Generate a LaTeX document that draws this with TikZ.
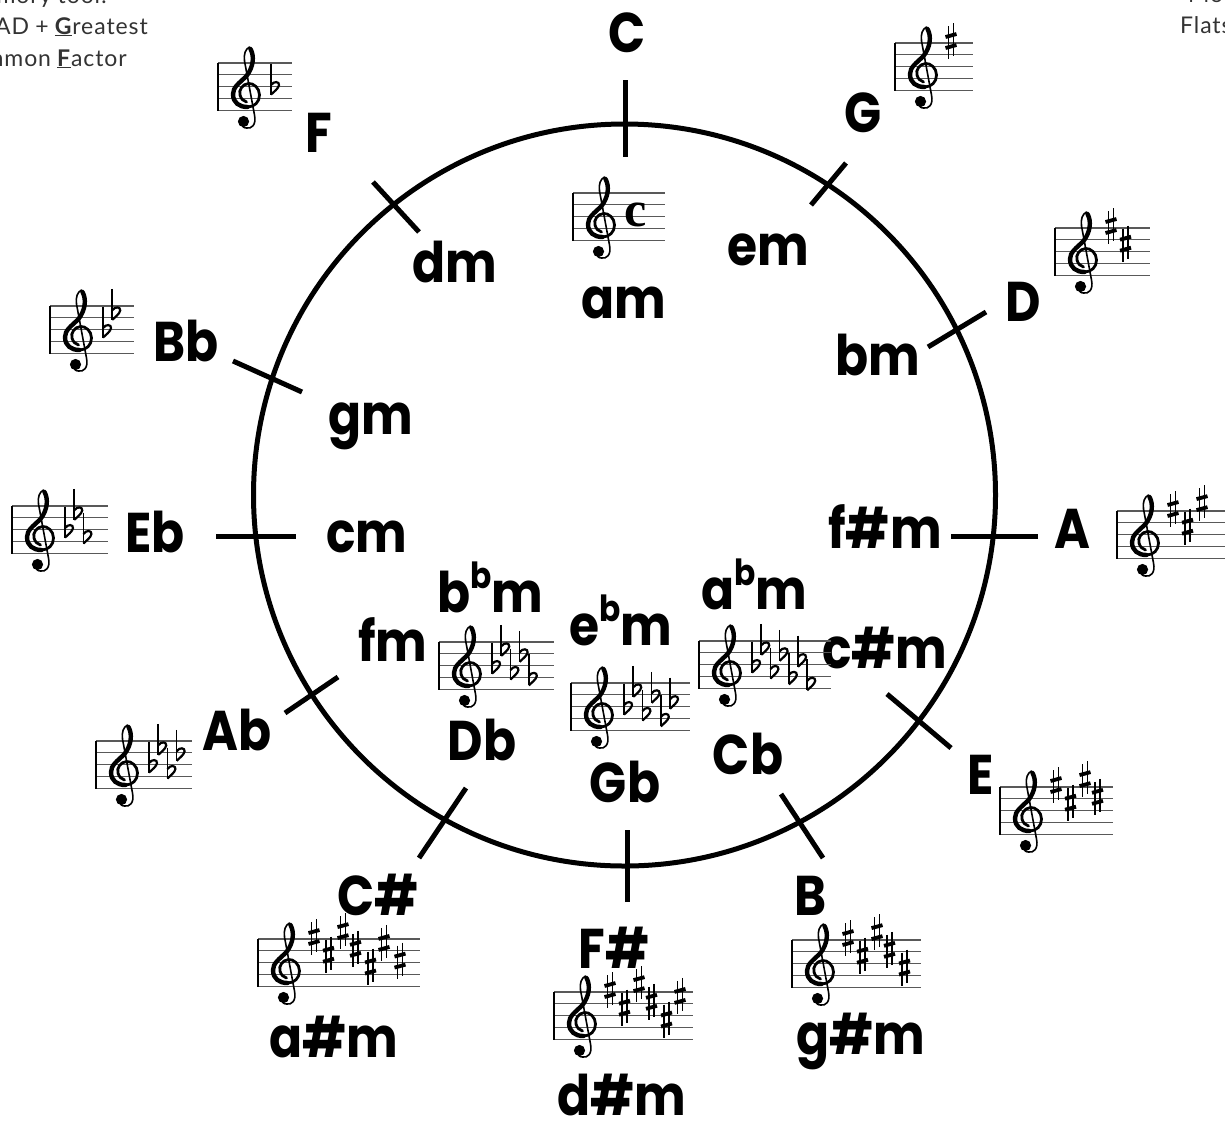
\documentclass[tikz,border=0pt]{standalone}
\usepackage{fontspec}
\setmainfont{Poppins}[UprightFont=* Bold,BoldFont=* Bold,FakeStretch=0.87]
\newfontfamily\smallfont{Lato}[LetterSpace=4,WordSpace=0.9]
\newfontfamily\timefont{Liberation Serif}[BoldFont=* Bold]
\newcommand{\supb}{\raisebox{0.42em}{\fontsize{36}{36}\selectfont b}}
\tikzset{
  x=1pt,y=-1pt,
  ring/.style={line width=5pt,draw=black},
  tickline/.style={line width=5pt,draw=black},
  keylabel/.style={anchor=base,font=\fontsize{56}{56}\selectfont,text=black,inner sep=0pt},
  note/.style={font=\smallfont\fontsize{23}{23}\selectfont,text=black!80,inner sep=0pt},
  staffline/.style={line width=1.3pt,draw=black!65},
  staffbar/.style={line width=2.8pt,draw=black},
  accstem/.style={line width=1.5pt,draw=black},
  accbar/.style={line width=3.8pt,draw=black},
}
% treble clef: local frame origin at the staff's top-left corner
\newcommand{\trebleclef}{%
  \begin{scope}[shift={(13.5,-16)}]
    \draw[black,line width=1.6pt,line cap=round]
      (18,0) .. controls (14,2) and (12,7) .. (13,14) -- (23,68)
      .. controls (25,78) and (20,82) .. (15,81)
      .. controls (12,81) and (10,79) .. (11,76);
    \fill[black] (12,74.5) circle (5.6);
    \draw[black,line width=4.4pt,line cap=round]
      (19,2) .. controls (23,9) and (22,20) .. (15,29)
      .. controls (8,36) and (1.5,40) .. (1.5,47)
      .. controls (1.5,56) and (8,60) .. (16,60);
    \draw[black,line width=2.8pt,line cap=round]
      (16,60) .. controls (23,60) and (28,55) .. (28,48)
      .. controls (28,41) and (22,36) .. (17,36.5)
      .. controls (11,37) and (7,43) .. (8.5,48)
      .. controls (9.5,52) and (12,54) .. (15,55);
  \end{scope}}
\newcommand{\flatsign}[2]{% offset, staff position
  \begin{scope}[shift={(#1,#2*5.9)}]
    \draw[accstem] (0,-23) -- (0,8);
    \draw[black,line width=2.2pt] (0,-1.5) .. controls (3,-6) and (8.5,-5) .. (8,-1.5)
      .. controls (7.5,2) and (3,5) .. (0,8);
  \end{scope}}
\newcommand{\sharpsign}[2]{%
  \begin{scope}[shift={(#1,#2*5.9-2)}]
    \draw[accstem] (-2.6,-15) -- (-2.6,18);
    \draw[accstem] (2.6,-18) -- (2.6,15);
    \draw[accbar] (-5.5,-4) -- (5.5,-7);
    \draw[accbar] (-5.5,7) -- (5.5,4);
  \end{scope}}
\newcommand{\stave}[4]{% x, y, width, accidentals code
  \begin{scope}[shift={(#1,#2)}]
    \foreach \s in {0,1,2,3,4} {\draw[staffline] (0,\s*11.8) -- (#3,\s*11.8);}
    \draw[staffbar] (0,-0.5) -- (0,47.7);
    \trebleclef
    #4
  \end{scope}}
\newcommand{\flatsA}{\flatsign{53}{4}}
\newcommand{\flatsB}{\flatsA\flatsign{62.2}{1}}
\newcommand{\flatsC}{\flatsB\flatsign{71.4}{5}}
\newcommand{\flatsD}{\flatsC\flatsign{80.6}{2}}
\newcommand{\flatsE}{\flatsD\flatsign{89.8}{6}}
\newcommand{\flatsF}{\flatsE\flatsign{99}{3}}
\newcommand{\flatsG}{\flatsF\flatsign{108.2}{7}}
\newcommand{\sharpsA}{\sharpsign{56}{0}}
\newcommand{\sharpsB}{\sharpsA\sharpsign{70.5}{3}}
\newcommand{\sharpsC}{\sharpsB\sharpsign{85}{-1}}
\newcommand{\sharpsD}{\sharpsC\sharpsign{97.5}{2}}
\newcommand{\sharpsE}{\sharpsD\sharpsign{112.5}{5}}
\newcommand{\sharpsF}{\sharpsE\sharpsign{126}{1}}
\newcommand{\sharpsG}{\sharpsF\sharpsign{142}{4}}
\begin{document}
\begin{tikzpicture}
\useasboundingbox (0,0) rectangle (1225,1120);
\clip (0,0) rectangle (1225,1120);
% notes
\node[note,anchor=base east] (n1) at (107,3) {Memory tool:};
\node[note,anchor=base east] (n2) at (148,34) {BEAD + \underline{\textbf{G}}reatest};
\node[note,anchor=base east] (n3) at (127,66) {Common \underline{\textbf{F}}actor};
\node[note,anchor=base west] (n4) at (1188,2) {More};
\node[note,anchor=base west] (n5) at (1180,33) {Flats};
% circle
\coordinate (ctr) at (624.5,495);
\draw[ring] (ctr) circle (371);
% ticks
\foreach \n/\ax/\ay/\bx/\by in {
  C/625/80/625/157, G/846/163/811/205, D/986/312/928/347, A/1038/536/951/536,
  E/951/748/887/694, B/823/858/781/794, Fs/627/902/627/830, Cs/419/858/466/788,
  Ab/285/713/338/677, Eb/216/536/296/536, Bb/233/361/302/392, F/373/182/419/232}
  {\coordinate (\n o) at (\ax,\ay); \coordinate (\n i) at (\bx,\by);
   \draw[tickline] (\n o) -- (\n i);}
% key labels
\node[keylabel] (lC) at (627,52) {C};
\node[keylabel] (lG) at (863,132) {G};
\node[keylabel] (lF) at (319,152) {F};
\node[keylabel] (lem) at (768,265) {em};
\node[keylabel] (ldm) at (455,282) {dm};
\node[keylabel] (lam) at (624,318) {am};
\node[keylabel] (lD) at (1023,321) {D};
\node[keylabel] (lbm) at (878,375) {bm};
\node[keylabel] (lBb) at (186,361) {Bb};
\node[keylabel] (lgm) at (371,434) {gm};
\node[keylabel] (lfsm) at (885,548) {f\#m};
\node[keylabel] (lA) at (1072,548) {A};
\node[keylabel] (lcm) at (367,552) {cm};
\node[keylabel] (lEb) at (155,552) {Eb};
\node[keylabel] (labm) at (754,609) {a\supb m};
\node[keylabel] (lbbm) at (490,612) {b\supb m};
\node[keylabel] (lebm) at (621,645) {e\supb m};
\node[keylabel] (lcsm) at (885,668) {c\#m};
\node[keylabel] (lfm) at (393,661) {fm};
\node[keylabel] (lAb) at (237,750) {Ab};
\node[keylabel] (lDb) at (482,760) {Db};
\node[keylabel] (lCb) at (748,774) {Cb};
\node[keylabel] (lGb) at (625,802) {Gb};
\node[keylabel] (lE) at (981,794) {E};
\node[keylabel] (lB) at (811,915) {B};
\node[keylabel] (lCs) at (378,915) {C\#};
\node[keylabel] (lFs) at (614,968) {F\#};
\node[keylabel] (lasm) at (334,1057) {a\#m};
\node[keylabel] (lgsm) at (861,1054) {g\#m};
\node[keylabel] (ldsm) at (622,1115) {d\#m};
% staves
\stave{573}{193}{92}{\node[anchor=center,inner sep=0pt,font=\timefont\bfseries\fontsize{50}{50}\selectfont] (tc) at (63,22) {c};}
\stave{895}{43}{78}{\sharpsA}
\stave{1055}{228}{95}{\sharpsB}
\stave{1117}{511}{108}{\sharpsC}
\stave{1000}{787}{113}{\sharpsD}
\stave{792}{940}{129}{\sharpsE}
\stave{554}{992}{139}{\sharpsF}
\stave{258}{939}{162}{\sharpsG}
\stave{218}{63}{74}{\flatsA}
\stave{50}{306}{84}{\flatsB}
\stave{12}{506}{96}{\flatsC}
\stave{96}{741}{96}{\flatsD}
\stave{439}{642}{115}{\flatsE}
\stave{571}{683}{119}{\flatsF}
\stave{699}{641}{132}{\flatsG}
\end{tikzpicture}
\end{document}
